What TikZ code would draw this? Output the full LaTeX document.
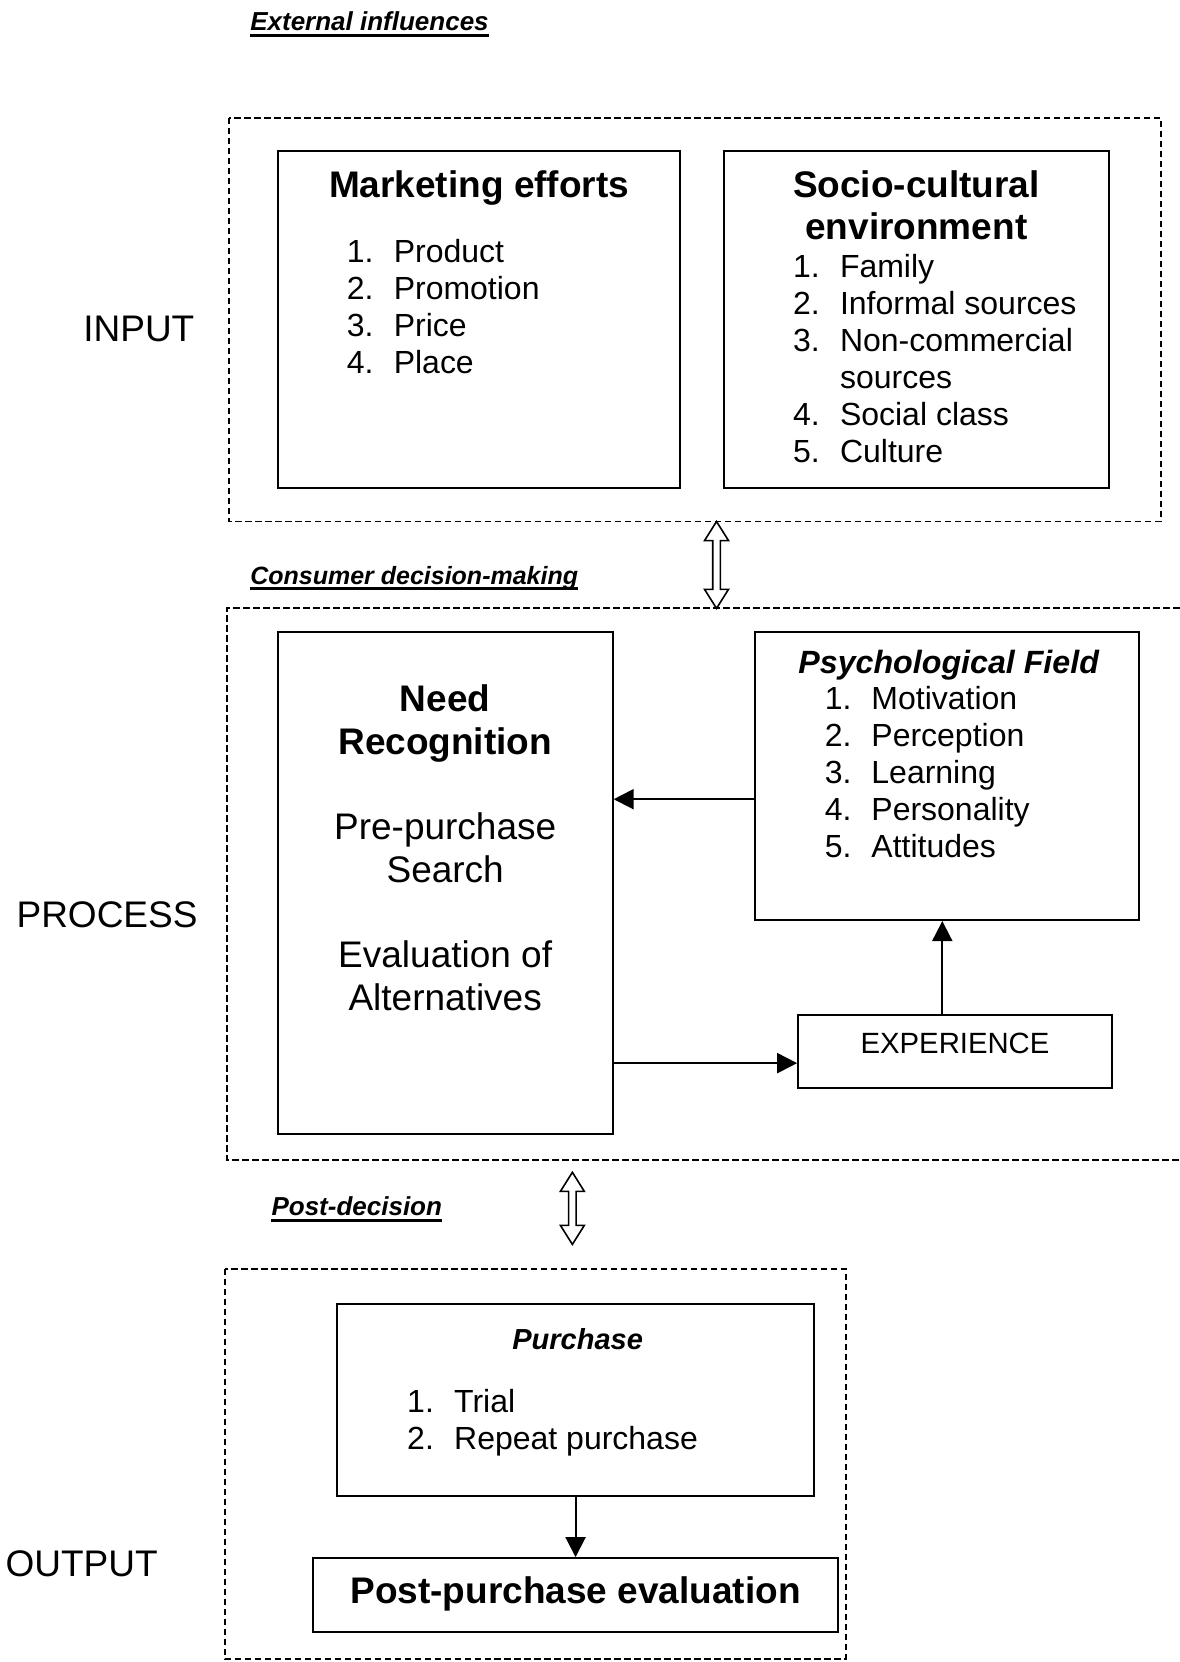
\documentclass[tikz,border=0pt]{standalone}
\usepackage{fontspec}
\setmainfont{Liberation Sans}
\usetikzlibrary{arrows.meta,calc,fit}

% hollow two-headed block arrow between two tip coordinates (top tip, bottom tip)
\newcommand\hollowtwoway[2]{%
  \draw[line width=1.6pt, fill=white, line join=miter]
    (#1) -- ++(11.3,18) -- ++(-7.7,0) -- ($(#2)+(3.6,-18)$) -- ++(7.7,0) -- (#2)
    -- ++(-11.3,-18) -- ++(7.7,0) -- ($(#1)+(-3.6,18)$) -- ++(-7.7,0) -- cycle;}

\begin{document}
\begin{tikzpicture}[x=1.0602pt, y=-1.0602pt,
  box/.style={draw, line width=2pt, inner sep=0pt},
  frame/.style={line width=1.9pt, dash pattern=on 6.5pt off 3.5pt},
  arr/.style={line width=2pt, -{Triangle[length=20pt,width=20pt]}},
  ttl/.style={font=\fontsize{37}{42.6}\selectfont\bfseries, inner sep=0pt, anchor=base},
  lst/.style={font=\fontsize{32}{37}\selectfont, inner sep=0pt, anchor=base west},
  side/.style={font=\fontsize{37}{42}\selectfont, inner sep=0pt, anchor=base},
  tag/.style={font=\fontsize{26}{30}\selectfont\bfseries\itshape, inner sep=0pt, anchor=base west},
  uline/.style={line width=2.6pt}]

\fill[white] (0,0) rectangle (1113,1568);
\useasboundingbox (0,0) rectangle (1113,1568);

% ---------- INPUT ----------
\node[tag] (ext) at (236,29) {External influences};
\draw[uline] ([yshift=-4.5pt]ext.base west) -- ([yshift=-4.5pt]ext.base east);

\coordinate (inNW) at (216,111);
\coordinate (inSE) at (1095,492);
\draw[frame] (inNW) rectangle (inSE);

\node[side] (input) at (131,322.5) {INPUT};

\node[box, fit={(262,142) (642,460)}] (mkt) {};
\node[ttl] (mktt) at (452,186) {Marketing efforts};
\node[lst] (mktl) at (327,248) {\begin{tabular}[t]{@{}p{47pt}@{}l@{}}
1.&Product\\2.&Promotion\\3.&Price\\4.&Place\end{tabular}};

\node[box, fit={(683,142) (1046,460)}] (soc) {};
\node[ttl] (soct) at (864.5,186) {\begin{tabular}[t]{@{}c@{}}Socio-cultural\\environment\end{tabular}};
\node[lst] (socl) at (748,262) {\begin{tabular}[t]{@{}p{47pt}@{}l@{}}
1.&Family\\2.&Informal sources\\3.&Non-commercial\\&sources\\4.&Social class\\5.&Culture\end{tabular}};

% ---------- PROCESS ----------
\coordinate (a1t) at (676,492);
\coordinate (a1b) at (676,574);
\hollowtwoway{a1t}{a1b}

\node[tag, font=\fontsize{25}{30}\selectfont\bfseries\itshape] (cdm) at (236,551) {Consumer decision-making};
\draw[uline] ([yshift=-4.5pt]cdm.base west) -- ([yshift=-4.5pt]cdm.base east);

\coordinate (prNE) at (1113,574);
\coordinate (prNW) at (214,574);
\coordinate (prSW) at (214,1094);
\coordinate (prSE) at (1113,1094);
\draw[frame] (prNE) -- (prNW) -- (prSW) -- (prSE);

\node[side] (process) at (101,875) {PROCESS};

\node[box, fit={(262,596) (578,1070)}] (nr) {};
\node[inner sep=0pt, anchor=base] (nrt) at (420,671) {\fontsize{37}{42.8}\selectfont
\begin{tabular}[t]{@{}c@{}}\textbf{Need}\\\textbf{Recognition}\\[0pt]\\Pre-purchase\\Search\\\\Evaluation of\\Alternatives\end{tabular}};

\node[box, fit={(712,596) (1075,868)}] (psy) {};
\node[inner sep=0pt, anchor=base, font=\fontsize{32.2}{37}\selectfont\bfseries\itshape] (psyt) at (895,635) {Psychological Field};
\node[lst] (psyl) at (778,669) {\begin{tabular}[t]{@{}p{46.6pt}@{}l@{}}
1.&Motivation\\2.&Perception\\3.&Learning\\4.&Personality\\5.&Attitudes\end{tabular}};

\node[box, fit={(753,958) (1049,1026)}] (exp) {};
\node[inner sep=0pt, anchor=base, font=\fontsize{29.3}{34}\selectfont] (expt) at (901,994) {EXPERIENCE};

\coordinate (r1) at (0,754);
\coordinate (r2) at (0,1003);
\coordinate (c1) at (889,0);
\draw[arr] (psy.west |- r1) -- (nr.east |- r1);
\draw[arr] (nr.east |- r2) -- (exp.west |- r2);
\draw[arr] (exp.north -| c1) -- (psy.south -| c1);

% ---------- OUTPUT ----------
\coordinate (a2t) at (540,1106);
\coordinate (a2b) at (540,1174);
\hollowtwoway{a2t}{a2b}

\node[tag] (pd) at (256,1147) {Post-decision};
\draw[uline] ([yshift=-4.5pt]pd.base west) -- ([yshift=-4.5pt]pd.base east);

\coordinate (outNW) at (212,1197);
\coordinate (outSE) at (798,1565);
\draw[frame] (outNW) rectangle (outSE);

\node[side] (output) at (77,1487) {OUTPUT};

\node[box, fit={(318,1230) (768,1411)}] (pur) {};
\node[inner sep=0pt, anchor=base, font=\fontsize{29}{34}\selectfont\bfseries\itshape] (purt) at (545,1273) {Purchase};
\node[lst] (purl) at (384,1333) {\begin{tabular}[t]{@{}p{47pt}@{}l@{}}
1.&Trial\\2.&Repeat purchase\end{tabular}};

\node[box, fit={(295,1470) (791,1540)}] (ppe) {};
\node[ttl] (ppet) at (543,1513) {Post-purchase evaluation};

\draw[arr] (pur.south) -- (ppe.north);

\end{tikzpicture}
\end{document}
